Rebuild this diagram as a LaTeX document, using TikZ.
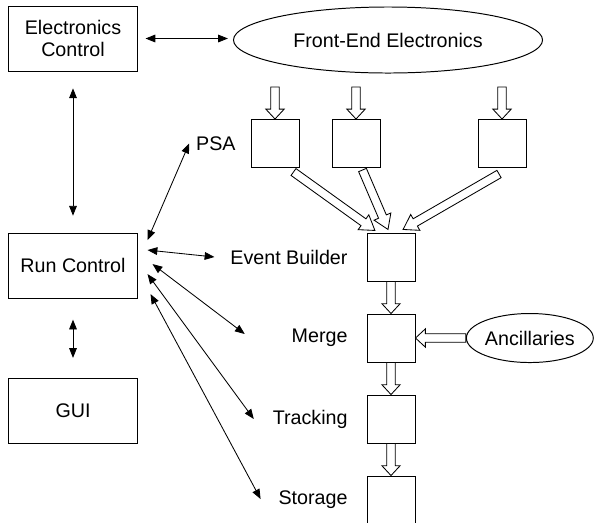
\documentclass[tikz,border=0pt]{standalone}
\usepackage{fontspec}
\setmainfont{Liberation Sans}
\usetikzlibrary{positioning,shapes.geometric,arrows.meta,calc}

\newcommand{\fatedge}[3][7pt]{%
  \draw[fat] let \p1=($(#3)-(#2)$), \p2=(#2), \n1={veclen(\x1,\y1)}, \n2={atan2(\y1,\x1)} in
    [shift={(\x2,\y2)}, rotate=\n2]
    (0pt,-3pt) -- ({\n1-#1},-3pt) -- ({\n1-#1},-6.5pt) -- ({\n1+0pt},0pt)
    -- ({\n1-#1},6.5pt) -- ({\n1-#1},3pt) -- (0pt,3pt) -- cycle;}

\begin{document}
\begin{tikzpicture}
[x=0.025cm,y=-0.025cm,>={Triangle[length=7pt,width=5.5pt]},
font=\fontsize{14}{15}\selectfont,
box/.style={draw, line width=0.7pt, minimum width=3.2cm, minimum height=1.625cm, align=center},
stage/.style={draw, line width=0.7pt, minimum size=1.2cm},
oval/.style={draw, line width=0.7pt, ellipse, inner sep=0pt},
fat/.style={draw, fill=white, line width=0.6pt},
link/.style={<->, line width=0.6pt}]
\clip (0,0) rectangle (596,522);

\node[box] (ec) at (73,38.5) {Electronics\\Control};
\node[box, below=4.025cm of ec] (rc) {Run Control};
\node[box, below=1.975cm of rc] (gui) {GUI};
\node[oval, minimum width=7.725cm, minimum height=1.65cm] (fee) at (388,40) {Front-End Electronics};

\node[stage] (p1) at (275,143.5) {};
\node[stage, right=0.8cm of p1] (p2) {};
\node[stage, right=2.425cm of p2] (p3) {};
\node[left=0.25cm of p1] (psa) {PSA};

\node[stage] (eb) at (391,257) {};
\node[stage, below=0.8cm of eb] (merge) {};
\node[stage, below=0.8cm of merge] (track) {};
\node[stage, below=0.8cm of track] (store) {};
\node[left=0.35cm of eb] (lEB) {Event Builder};
\node[left=0.35cm of merge] (lMerge) {Merge};
\node[left=0.35cm of track] (lTrack) {Tracking};
\node[left=0.35cm of store] (lStore) {Storage};
\node[oval, minimum width=3.05cm, minimum height=1.225cm, right=1.26cm of merge] (anc) {Ancillaries};

\draw[link, shorten <=5.7pt, shorten >=3.6pt] (ec.east) -- (ec.east -| fee.west);
\draw[link, shorten <=12pt, shorten >=12pt] (ec) -- (rc);
\draw[link, shorten <=15pt, shorten >=14pt] (rc) -- (gui);

\draw[link] ([shift={(10,-25.5)}]rc.east) -- ([shift={(-2,0)}]psa.west);
\draw[link] ([shift={(10,-15.5)}]rc.east) -- ([shift={(-11,0)}]lEB.west);
\draw[link] ([shift={(15,-1.5)}]rc.east) -- ([shift={(-42,-4)}]lMerge.west);
\draw[link] ([shift={(10,8.5)}]rc.east) -- ([shift={(-14,0)}]lTrack.west);
\draw[link] ([shift={(13,28.5)}]rc.east) -- ([shift={(-13,-1)}]lStore.west);

\fatedge{[shift={(0,-32)}]p1.north}{p1.north}
\fatedge{[shift={(0,-32)}]p2.north}{p2.north}
\fatedge{[shift={(0,-32)}]p3.north}{p3.north}

\fatedge[10pt]{[shift={(-6,4)}]p1.south east}{[shift={(-16,-2)}]eb.north}
\fatedge[10pt]{[shift={(6.5,2)}]p2.south}{[shift={(-3,-3)}]eb.north}
\fatedge[10pt]{[shift={(-3,6)}]p3.south}{[shift={(12,-3)}]eb.north}

\fatedge{eb.south}{merge.north}
\fatedge{merge.south}{track.north}
\fatedge{track.south}{store.north}
\fatedge{anc.west}{merge.east}
\end{tikzpicture}
\end{document}
